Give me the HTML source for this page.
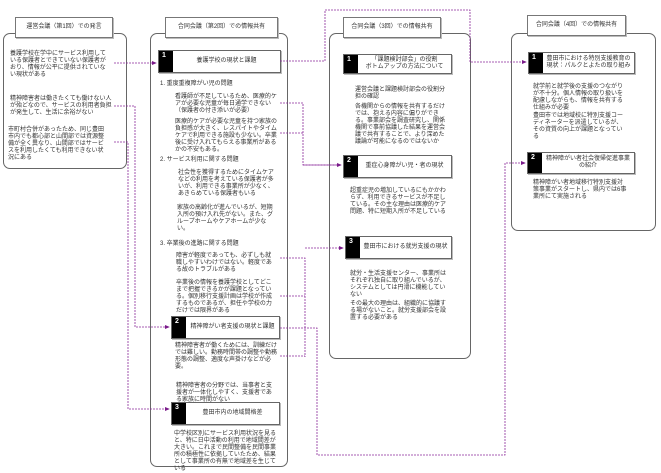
<!DOCTYPE html>
<html><head><meta charset="utf-8"><style>
body{margin:0;width:661px;height:470px;background:#fff;position:relative;overflow:hidden;font-family:"Liberation Sans","Noto Sans CJK JP",sans-serif;color:#333}
.a{position:absolute}
.c{position:absolute;border:1px solid #666;border-radius:7px;background:#fff}
.h{position:absolute;border:1px solid #777;background:#fff;font-size:6px;text-align:center;line-height:19px;box-shadow:1px 1px 0 #bbb}
.b{position:absolute;border:1px solid #666;background:#fff;font-size:6px;display:flex;align-items:center;justify-content:center;text-align:center;line-height:7px;box-shadow:1px 1px 0 #bbb}
.b i{position:absolute;left:0;top:0;bottom:0;width:14px;background:#000;color:#fff;font-style:normal;font-weight:bold;font-size:7px;line-height:9px;text-align:left;padding-left:3px;box-sizing:border-box}
.b span{margin-left:14px}
.p{position:absolute;font-size:6px;line-height:7px}
</style></head><body>
<div class="c" style="left:3px;top:33px;width:122px;height:134px"></div>
<div class="h" style="left:15px;top:17px;width:96px;height:19px">運営会議（第1回）での発言</div>
<div class="p" style="left:10px;top:51px;width:100px">養護学校在学中にサービス利用している保護者とできていない保護者がおり、情報が公平に提供されていない現状がある</div>
<div class="p" style="left:10px;top:96px;width:103px">精神障害者は働きたくても働けない人が殆どなので、サービスの利用者負担が発生して、生活に余裕がない</div>
<div class="p" style="left:8px;top:127px;width:98px">市町村合併があったため、同じ豊田市内でも都心部と山間部では資源整備が全く異なり、山間部ではサービスを利用したくても利用できない状況にある</div>

<div class="c" style="left:150px;top:33px;width:136px;height:432px"></div>
<div class="h" style="left:165px;top:17px;width:111px;height:19px">合同会議（第2回）での情報共有</div>
<div class="b" style="left:158px;top:50px;width:121px;height:21px"><i>1</i><span>養護学校の現状と課題</span></div>
<div class="p" style="left:160px;top:81px">1. 重度重複障がい児の問題</div>
<div class="p" style="left:175px;top:94px;width:102px">看護師が不足しているため、医療的ケアが必要な児童が毎日通学できない（保護者の付き添いが必要）</div>
<div class="p" style="left:175px;top:119px;width:102px">医療的ケアが必要な児童を持つ家族の負担感が大きく、レスパイトやタイムケアで利用できる施設も少ない。卒業後に受け入れてもらえる事業所があるかの不安もある。</div>
<div class="p" style="left:160px;top:157px">2. サービス利用に関する問題</div>
<div class="p" style="left:178px;top:170px;width:98px">社会性を獲得するためにタイムケアなどの利用を考えている保護者が多いが、利用できる事業所が少なく、あきらめている保護者もいる</div>
<div class="p" style="left:177px;top:205px;width:98px">家族の高齢化が進んでいるが、短期入所の預け入れ先がない。また、グループホームやケアホームが少ない。</div>
<div class="p" style="left:160px;top:241px">3. 卒業後の進路に関する問題</div>
<div class="p" style="left:176px;top:253px;width:100px">障害が軽度であっても、必ずしも就職しやすいわけではない。軽度である故のトラブルがある</div>
<div class="p" style="left:176px;top:280px;width:100px">卒業後の情報を養護学校としてどこまで把握できるかが課題となっている。個別移行支援計画は学校が作成するものであるが、担任や学校の力だけでは限界がある</div>
<div class="b" style="left:171px;top:316px;width:107px;height:21px"><i>2</i><span>精神障がい者支援の現状と課題</span></div>
<div class="p" style="left:175px;top:343px;width:102px">精神障害者が働くためには、訓練だけでは難しい。勤務時間帯の調整や勤務形態の調整、適度な声掛けなどが必要。</div>
<div class="p" style="left:176px;top:383px;width:98px">精神障害者の分野では、当事者と支援者が一体化しやすく、支援者である家族に時間がない</div>
<div class="b" style="left:171px;top:402px;width:107px;height:21px"><i>3</i><span>豊田市内の地域間格差</span></div>
<div class="p" style="left:174px;top:431px;width:106px">中学校区別にサービス利用状況を見ると、特に日中活動の利用で地域間差が大きい。これまで民間整備を民間事業所の積極性に依拠していたため、結果として事業所の有無で地域差を生じている</div>

<div class="c" style="left:329px;top:33px;width:140px;height:324px"></div>
<div class="h" style="left:343px;top:17px;width:96px;height:19px">合同会議（3回）での情報共有</div>
<div class="b" style="left:343px;top:54px;width:107px;height:18px"><i>1</i><span>「課題検討部会」の役割<br>ボトムアップの方法について</span></div>
<div class="p" style="left:355px;top:87px;width:95px">運営会議と課題検討部会の役割分担の確認</div>
<div class="p" style="left:355px;top:104px;width:95px">各機関からの情報を共有するだけでは、抱える内容に偏りができる。事業部会を調査研究し、関係機関で事前協議した結果を運営会議で共有することで、より深めた議論が可能になるのではないか</div>
<div class="b" style="left:343px;top:155px;width:107px;height:21px"><i>2</i><span>重症心身障がい児・者の現状</span></div>
<div class="p" style="left:350px;top:188px;width:100px">超重症児の増加しているにもかかわらず、利用できるサービスが不足している。その主な理由は医療的ケア問題、特に短期入所が不足している</div>
<div class="b" style="left:345px;top:236px;width:105px;height:21px"><i>3</i><span>豊田市における就労支援の現状</span></div>
<div class="p" style="left:350px;top:271px;width:100px">就労・生活支援センター、事業所はそれぞれ独自に取り組んでいるが、システムとしては円滑に機能していない</div>
<div class="p" style="left:350px;top:301px;width:100px">その最大の理由は、組織的に協議する場がないこと。就労支援部会を設置する必要がある</div>

<div class="c" style="left:511px;top:33px;width:143px;height:196px"></div>
<div class="h" style="left:527px;top:15px;width:97px;height:19px">合同会議（4回）での情報共有</div>
<div class="b" style="left:528px;top:52px;width:105px;height:20px"><i>1</i><span>豊田市における特別支援教育の<br>現状：パルクとよたの取り組み</span></div>
<div class="p" style="left:533px;top:84px;width:95px">就学前と就学後の支援のつながりが不十分。個人情報の取り扱いを配慮しながらも、情報を共有する仕組みが必要</div>
<div class="p" style="left:533px;top:113px;width:95px">豊田市では地域校に特別支援コーディネーターを派遣しているが、その資質の向上が課題となっている</div>
<div class="b" style="left:527px;top:152px;width:106px;height:20px"><i>2</i><span>精神障がい者社会復帰促進事業<br>の紹介</span></div>
<div class="p" style="left:533px;top:180px;width:95px">精神障がい者地域移行特別支援対策事業がスタートし、県内では6事業所にて実施される</div>

<svg class="a" style="left:0;top:0" width="661" height="470">
<defs><marker id="m" markerWidth="6" markerHeight="6" refX="5" refY="3" orient="auto"><path d="M0,0.5L6,3L0,5.5z" fill="#7a1a8a"/></marker></defs>
<g fill="none" stroke="#8a2a9a" stroke-width="0.8" stroke-dasharray="2,1">
<path d="M114,63H156" marker-end="url(#m)"/>
<path d="M114,106H135V327H169" marker-end="url(#m)"/>
<path d="M114,142H128V409H169" marker-end="url(#m)"/>
<path d="M280,61H325V10H470V62H526" marker-end="url(#m)"/>
<path d="M280,103H303V165H341"/>
<path d="M280,133H303"/>
<path d="M303,165H341" marker-end="url(#m)"/>
<path d="M280,258H305V357"/>
<path d="M280,296H305"/>
<path d="M280,356H305"/>
<path d="M305,248H343" marker-end="url(#m)"/>
<path d="M280,328H317V455H505V163H525" marker-end="url(#m)"/>
</g>
</svg>
</body></html>
